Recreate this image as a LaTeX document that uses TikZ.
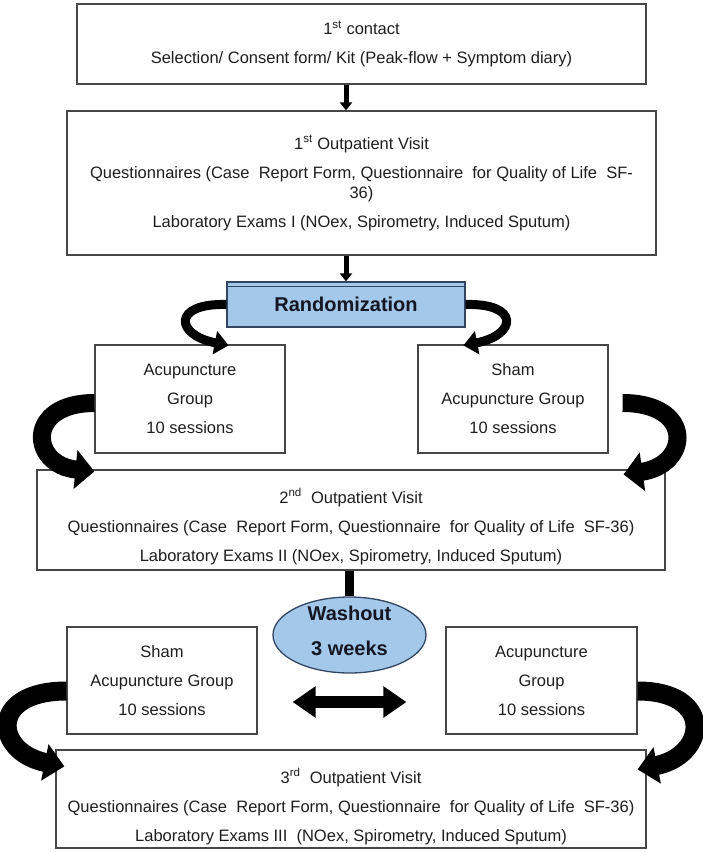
\documentclass[tikz,border=0pt]{standalone}
\usepackage{fontspec}
\setmainfont{Liberation Sans}
\usetikzlibrary{arrows.meta,shapes.geometric}
\definecolor{lblue}{RGB}{163,200,234}
\definecolor{bord}{RGB}{70,70,70}
\definecolor{navyb}{RGB}{50,70,100}
\definecolor{txt}{RGB}{30,30,30}
\begin{document}
\begin{tikzpicture}[x=1pt,y=-1pt,
  box/.style={draw=bord, line width=1.2pt, fill=white, text=txt, align=center,
    font=\fontsize{16.5}{29}\selectfont},
  plain/.style={text=txt, align=center, font=\fontsize{16.5}{29}\selectfont},
  blue/.style={draw=navyb, line width=1.3pt, fill=lblue},
  btext/.style={text={rgb,255:red,20;green,22;blue,35}, align=center, font=\fontsize{20}{35}\bfseries\selectfont},
  sarrow/.style={line width=5pt, -{Triangle[width=12pt,length=8pt]}},
  carrow/.style={line width=9pt, -{Triangle[width=23pt,length=14pt]}},
  barrow/.style={line width=18pt, -{Triangle[width=38pt,length=19pt]}},
  darrow/.style={line width=12.5pt, {Triangle[width=30pt,length=23pt]}-{Triangle[width=30pt,length=23pt]}}
]
\useasboundingbox (0,0) rectangle (702,852);
\fill[white] (0,0) rectangle (702,852);

% boxes
\node[box, minimum width=569pt, minimum height=80pt] (b1) at (361.5,44)
  {1\textsuperscript{st} contact\\Selection/ Consent form/ Kit (Peak-flow + Symptom diary)};
\node[box, minimum width=589pt, minimum height=144pt] (b2) at (361.5,183)
  {1\textsuperscript{st} Outpatient Visit\\Questionnaires (Case\ \ Report Form, Questionnaire\ \ for Quality of Life\ \ SF-\\[-9pt]36)\\Laboratory Exams I (NOex, Spirometry, Induced Sputum)};
\node[blue, btext, minimum width=238pt, minimum height=45pt] (rnd) at (346,304.5) {Randomization};
\draw[navyb, line width=0.8pt] ([yshift=-5.5pt]rnd.north west) -- ([yshift=-5.5pt]rnd.north east);

\node[box, minimum width=190pt, minimum height=108pt] (ga) at (190,399)
  {Acupuncture\\Group\\10 sessions};
\node[box, minimum width=190pt, minimum height=108pt] (gs) at (513,399)
  {Sham\\Acupuncture Group\\10 sessions};

\node[box, minimum width=628pt, minimum height=100pt] (b3) at (351,520) {};
\node[plain] (t3) at (351,526.5)
  {2\textsuperscript{nd}\ \ Outpatient Visit\\Questionnaires (Case\ \ Report Form, Questionnaire\ \ for Quality of Life\ \ SF-36)\\Laboratory Exams II (NOex, Spirometry, Induced Sputum)};

% connector to washout (behind ellipse)
\node[blue, ellipse, minimum width=153pt, minimum height=76pt, inner sep=0pt] (wash) at (349.5,635) {};
\draw[line width=9pt] (b3.south -| wash.center) -- (wash.north);
\node[btext] (washt) at (349.5,631) {Washout\\3 weeks};

\node[box, minimum width=190pt, minimum height=107pt] (sl) at (162,680.5)
  {Sham\\Acupuncture Group\\10 sessions};
\node[box, minimum width=191pt, minimum height=107pt] (al) at (541.5,680.5)
  {Acupuncture\\Group\\10 sessions};

\node[box, minimum width=590pt, minimum height=98pt] (b4) at (351,799) {};
\node[plain] (t4) at (351,806.5)
  {3\textsuperscript{rd}\ \ Outpatient Visit\\Questionnaires (Case\ \ Report Form, Questionnaire\ \ for Quality of Life\ \ SF-36)\\Laboratory Exams III\ \ (NOex, Spirometry, Induced Sputum)};

% straight arrows
\draw[sarrow] (b1.south -| rnd.center) -- (b2.north -| rnd.center);
\draw[sarrow] (b2.south -| rnd.center) -- (rnd.north);

% curved arrows from randomization
\coordinate (gaT) at ([xshift=-57pt,yshift=-1pt]ga.north east);
\coordinate (gsT) at ([xshift=46pt,yshift=-1pt]gs.north west);
\draw[carrow] (rnd.west) .. controls (172,303) and (175,335) .. (gaT);
\draw[carrow] (rnd.east) .. controls (520,303) and (517,335) .. (gsT);

% big curved arrows to 2nd visit
\coordinate (b3L) at ([xshift=58pt,yshift=-2pt]b3.north west);
\coordinate (b3R) at ([xshift=-42pt,yshift=-5pt]b3.north east);
\draw[barrow] ([yshift=-4pt]ga.west) .. controls (25,403) and (30,465) .. (b3L);
\draw[barrow] ([xshift=14pt,yshift=-4pt]gs.east) .. controls (695,403) and (690,465) .. (b3R);

% double arrow
\draw[darrow] ([xshift=35pt,yshift=-21.5pt]sl.east) -- ([xshift=-39pt,yshift=-21.5pt]al.west);

% lower curved arrows to 3rd visit
\coordinate (b4L) at ([xshift=9pt,yshift=-17pt]b4.north west);
\coordinate (b4R) at ([xshift=-9pt,yshift=-20pt]b4.north east);
\draw[barrow, line width=19pt, -{Triangle[width=36pt,length=20pt]}] ([yshift=-10.5pt]sl.west) .. controls (-12,691) and (-6,752) .. (b4L);
\draw[barrow, line width=19pt, -{Triangle[width=36pt,length=20pt]}] ([yshift=-10.5pt]al.east) .. controls (714,691) and (708,755) .. (b4R);
\end{tikzpicture}
\end{document}
